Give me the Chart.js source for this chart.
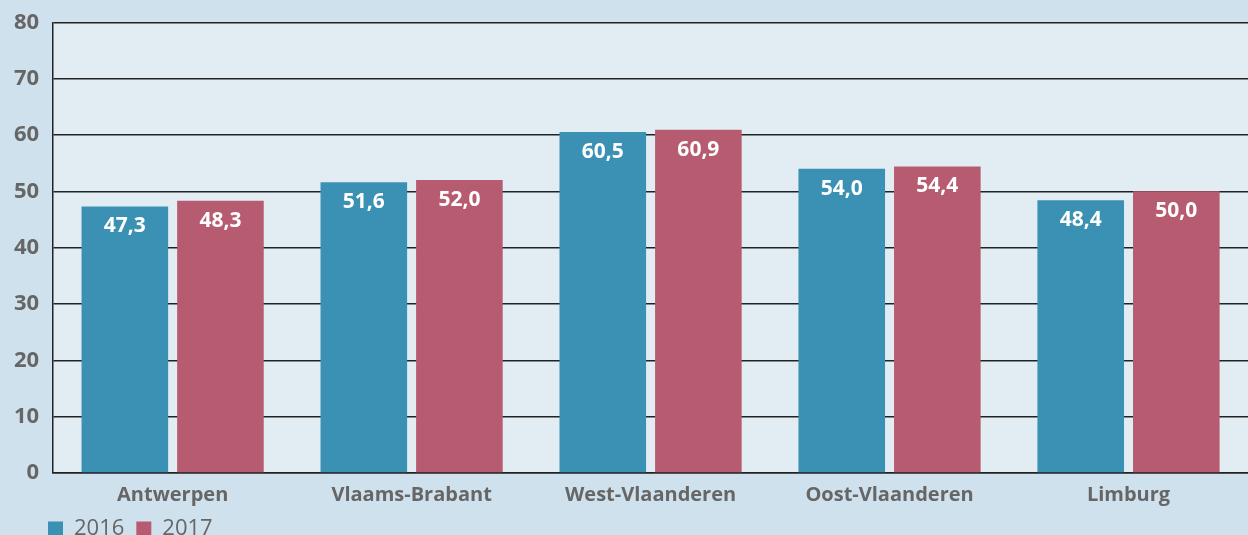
<!DOCTYPE html>
<html>
<head>
<meta charset="utf-8">
<script src="https://cdn.jsdelivr.net/npm/chart.js@4.4.1/dist/chart.umd.min.js"></script>
<style>
    html, body { margin: 0; padding: 0; background: #cfe1ec; overflow: hidden; }
    #wrap { width: 1248px; height: 535px; overflow: hidden; }
    #inner { width: 1248px; height: 561px; }
</style>
</head>
<body>
<div id="wrap"><div id="inner"><canvas id="bar-chart"></canvas></div></div>
<script>
var provinces = ["Antwerpen", "Vlaams-Brabant", "West-Vlaanderen", "Oost-Vlaanderen", "Limburg"];
var values2016 = [47.3, 51.6, 60.5, 54.0, 48.4];
var values2017 = [48.3, 52.0, 60.9, 54.4, 50.0];
var yTicks = [0, 10, 20, 30, 40, 50, 60, 70, 80];

(function () {
    "use strict";

    var font = "'Open Sans', 'DejaVu Sans', sans-serif";

    // Plot area background
    var plotBg = {
        id: "plotBg",
        beforeDraw: function (chart) {
            var a = chart.chartArea;
            var ctx = chart.ctx;
            ctx.save();
            ctx.fillStyle = "#e2edf3";
            ctx.fillRect(a.left, a.top, a.right - a.left, a.bottom - a.top);
            ctx.restore();
        },
    };

    // Legend sits under the plot, flush with the y axis
    var legendShift = {
        id: "legendShift",
        afterLayout: function (chart) {
            chart.legend.left = 36;
            chart.legend.top -= 11;
        },
    };

    // Value labels inside the bars
    var barLabels = {
        id: "barLabels",
        afterDatasetsDraw: function (chart) {
            var ctx = chart.ctx;
            ctx.save();
            ctx.fillStyle = "#ffffff";
            ctx.font = "bold 21px " + font;
            ctx.textAlign = "center";
            ctx.textBaseline = "middle";
            chart.data.datasets.forEach(function (ds, i) {
                chart.getDatasetMeta(i).data.forEach(function (bar, j) {
                    var txt = ds.data[j].toFixed(1).replace(".", ",");
                    ctx.fillText(txt, bar.x, bar.y + 20);
                });
            });
            ctx.restore();
        },
    };

    var ctx = document.getElementById("bar-chart").getContext("2d");
    var myChart = new Chart(ctx, {
        type: "bar",
        data: {
            labels: provinces,
            datasets: [
                {
                    label: "2016",
                    backgroundColor: "#3b91b3",
                    data: values2016,
                },
                {
                    label: "2017",
                    backgroundColor: "#b75c70",
                    data: values2017,
                },
            ],
        },
        options: {
            responsive: true,
            maintainAspectRatio: false,
            animation: false,
            categoryPercentage: 0.8,
            barPercentage: 0.906,
            layout: { padding: { top: 0, right: 0, left: 0, bottom: 0 } },
            plugins: {
                legend: {
                    position: "bottom",
                    align: "start",
                    labels: {
                        boxWidth: 15,
                        boxHeight: 15,
                        padding: 12,
                        color: "#666666",
                        font: { family: font, size: 22 },
                    },
                },
                tooltip: { enabled: false },
            },
            scales: {
                x: {
                    grid: { display: false, drawTicks: false },
                    border: { color: "#222222", width: 1.5 },
                    ticks: {
                        color: "#666666",
                        padding: 10,
                        font: { family: font, size: 20, weight: "bold" },
                    },
                },
                y: {
                    min: 0,
                    max: 80,
                    afterBuildTicks: function (axis) {
                        axis.ticks = yTicks.map(function (v) {
                            return { value: v };
                        });
                    },
                    grid: { color: "#222222", lineWidth: 1.5, drawTicks: false },
                    border: { color: "#222222", width: 1.5 },
                    ticks: {
                        color: "#666666",
                        padding: 14,
                        font: { family: font, size: 22, weight: "bold", lineHeight: 0.75 },
                    },
                },
            },
        },
        plugins: [plotBg, legendShift, barLabels],
    });
})();
</script>
</body>
</html>
